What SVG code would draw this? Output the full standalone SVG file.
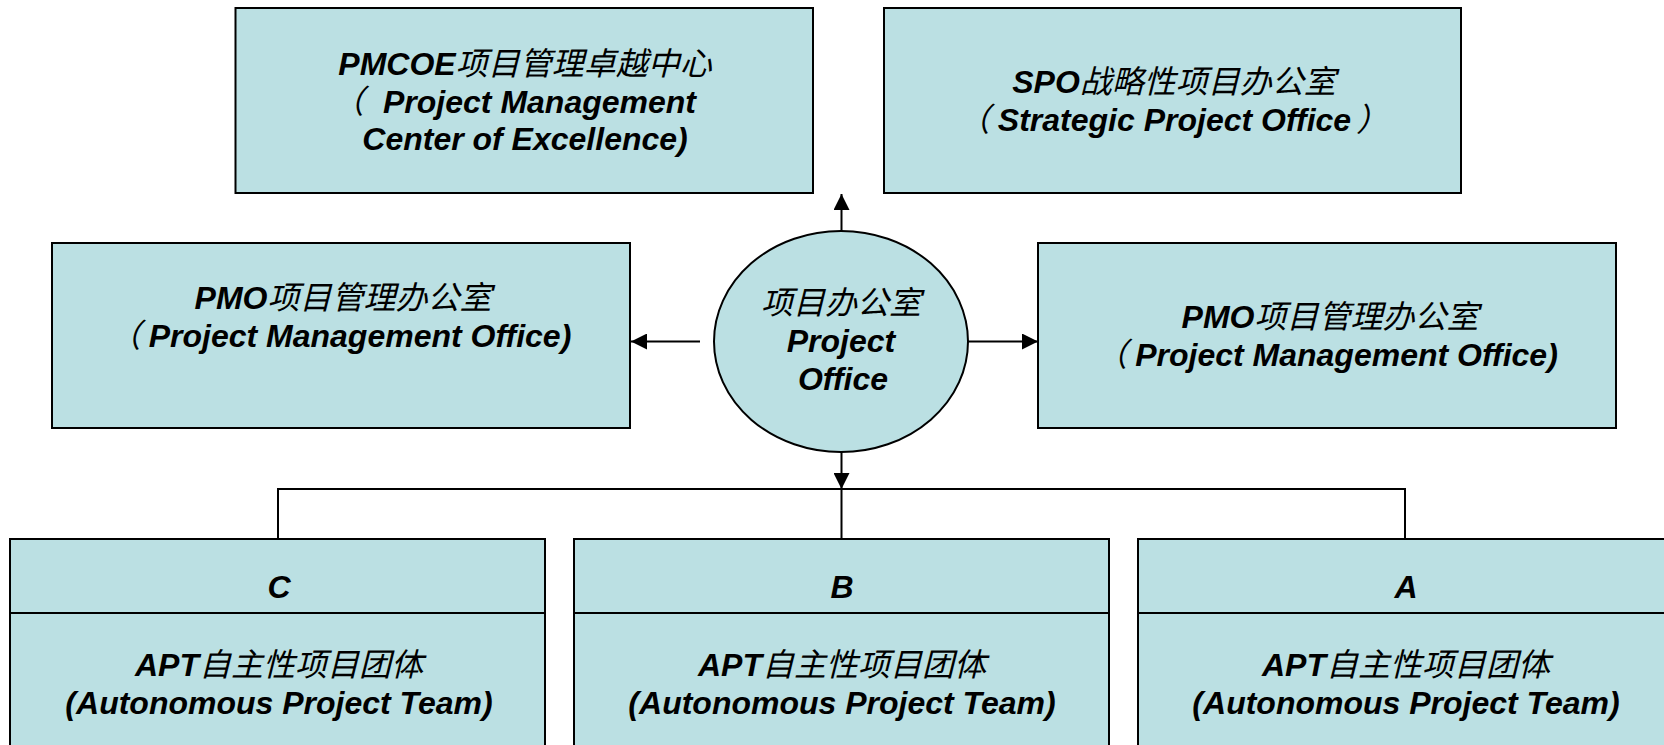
<svg xmlns="http://www.w3.org/2000/svg" width="1664" height="745" viewBox="0 0 1664 745">
<style>
.box{fill:#BBE0E3;stroke:#000;stroke-width:2}
.t{font-family:"Liberation Sans","Noto Sans CJK SC",sans-serif;font-size:32px;font-weight:bold;font-style:italic;text-anchor:middle;fill:#000}
.cn{font-weight:normal}
.ln{stroke:#000;stroke-width:2;fill:none}
</style>
<defs>
<marker id="arr" markerUnits="userSpaceOnUse" markerWidth="16" markerHeight="16" refX="16" refY="8" orient="auto">
<path d="M0,0 L16,8 L0,16 z" fill="#000"/>
</marker>
</defs>
<rect width="1664" height="745" fill="#fff"/>
<g id="connectors">
<line class="ln" x1="841.5" y1="231" x2="841.5" y2="194" marker-end="url(#arr)"/>
<line class="ln" x1="700" y1="341.5" x2="631" y2="341.5" marker-end="url(#arr)"/>
<line class="ln" x1="968" y1="341.5" x2="1038" y2="341.5" marker-end="url(#arr)"/>
<line class="ln" x1="841.5" y1="452" x2="841.5" y2="489" marker-end="url(#arr)"/>
<path class="ln" d="M278,539 V489 H1405 V539 M841.5,489 V539"/>
</g>
<g id="pmcoe">
<rect class="box" x="235.5" y="8" width="577.5" height="185"/>
<text class="t" x="525" y="75">PMCOE<tspan class="cn">项目管理卓越中心</tspan></text>
<text class="t" x="533" y="112.5"><tspan class="cn" dx="-19">（</tspan><tspan dx="19">Project Management</tspan></text>
<text class="t" x="525" y="150">Center of Excellence)</text>
</g>
<g id="spo">
<rect class="box" x="884" y="8" width="577" height="185"/>
<text class="t" x="1174" y="93">SPO<tspan class="cn">战略性项目办公室</tspan></text>
<text class="t" x="1181" y="130.5"><tspan class="cn" dx="-8">（</tspan><tspan dx="8">Strategic Project Office</tspan><tspan class="cn" dx="5">）</tspan></text>
</g>
<g id="pmo-left">
<rect class="box" x="52" y="243" width="578" height="185"/>
<text class="t" x="343" y="309">PMO<tspan class="cn">项目管理办公室</tspan></text>
<text class="t" x="348" y="347"><tspan class="cn" dx="-8">（</tspan><tspan dx="8">Project Management Office)</tspan></text>
</g>
<g id="pmo-right">
<rect class="box" x="1038" y="243" width="578" height="185"/>
<text class="t" x="1330" y="327.5">PMO<tspan class="cn">项目管理办公室</tspan></text>
<text class="t" x="1334.5" y="365.5"><tspan class="cn" dx="-8">（</tspan><tspan dx="8">Project Management Office)</tspan></text>
</g>
<g id="project-office">
<ellipse class="box" cx="841" cy="341.5" rx="127" ry="110.5"/>
<text class="t cn" x="841" y="314">项目办公室</text>
<text class="t" x="841" y="352">Project</text>
<text class="t" x="843" y="390">Office</text>
</g>
<g id="team-c">
<rect class="box" x="10" y="539" width="535" height="220"/>
<line class="ln" x1="10" y1="613" x2="545" y2="613"/>
<text class="t" x="279" y="598">C</text>
<text class="t" x="279" y="676">APT<tspan class="cn">自主性项目团体</tspan></text>
<text class="t" x="279" y="713.5">(Autonomous Project Team)</text>
</g>
<g id="team-b">
<rect class="box" x="574" y="539" width="535" height="220"/>
<line class="ln" x1="574" y1="613" x2="1109" y2="613"/>
<text class="t" x="842" y="598">B</text>
<text class="t" x="842" y="676">APT<tspan class="cn">自主性项目团体</tspan></text>
<text class="t" x="842" y="713.5">(Autonomous Project Team)</text>
</g>
<g id="team-a">
<rect class="box" x="1138" y="539" width="535" height="220"/>
<line class="ln" x1="1138" y1="613" x2="1673" y2="613"/>
<text class="t" x="1406" y="598">A</text>
<text class="t" x="1406" y="676">APT<tspan class="cn">自主性项目团体</tspan></text>
<text class="t" x="1406" y="713.5">(Autonomous Project Team)</text>
</g>
</svg>
